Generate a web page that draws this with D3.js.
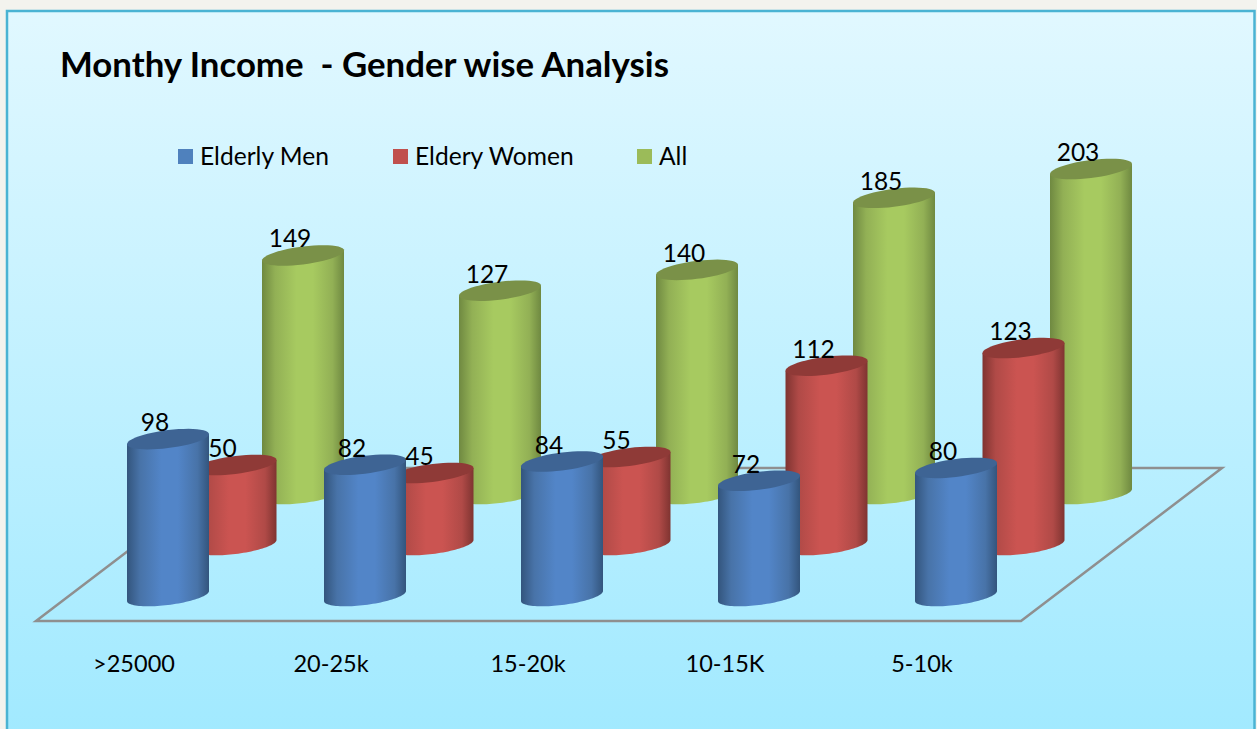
<!DOCTYPE html>
<html><head><meta charset="utf-8">
<script src="https://cdn.jsdelivr.net/npm/d3@7/dist/d3.min.js"></script>
<style>html,body{margin:0;padding:0;background:#f3f3ee;overflow:hidden}svg{display:block}text{font-family:Lato,"Open Sans",sans-serif;fill:#000}</style>
</head><body>
<script>
const title = "Monthy Income  - Gender wise Analysis";
const categories = [">25000", "20-25k", "15-20k", "10-15K", "5-10k"];
const seriesNames = ["Elderly Men", "Eldery Women", "All"];
const elderlyMen = [98, 82, 84, 72, 80];
const elderlyWomen = [50, 45, 55, 112, 123];
const allElderly = [149, 127, 140, 185, 203];
const seriesValues = [elderlyMen, elderlyWomen, allElderly];
const bodyEdge = ["#33557d", "#7f3431", "#6f8941"];
const bodyQuarter = ["#4873a8", "#b04a47", "#92b055"];
const bodyMid = ["#5285c8", "#cb5451", "#a7ca60"];
const capFill = ["#3e6494", "#8f3a37", "#7a9148"];
const legendFill = ["#4f81bd", "#c0504d", "#9bbb59"];

const W = 1257, H = 729;
const svg = d3.select("body").append("svg").attr("width", W).attr("height", H).attr("viewBox", [0, 0, W, H]);
const defs = svg.append("defs");

const bg = defs.append("linearGradient").attr("id", "bg").attr("x1", 0).attr("x2", 0).attr("y1", 0).attr("y2", 1);
bg.append("stop").attr("offset", 0).attr("stop-color", "#e1f8ff");
bg.append("stop").attr("offset", 1).attr("stop-color", "#9fe9ff");
seriesNames.forEach((s, i) => {
  const g = defs.append("linearGradient").attr("id", "cyl" + i).attr("x1", 0).attr("x2", 1).attr("y1", 0).attr("y2", 0);
  [[0, bodyEdge[i]], [.16, bodyQuarter[i]], [.42, bodyMid[i]], [.62, bodyMid[i]], [.86, bodyQuarter[i]], [1, bodyEdge[i]]].forEach(([o, c]) =>
    g.append("stop").attr("offset", o).attr("stop-color", c));
});

svg.append("rect").attr("x", 7).attr("y", 11).attr("width", 1247.5).attr("height", H + 20)
  .attr("fill", "url(#bg)").attr("stroke", "#4ab3d3").attr("stroke-width", 2.5);

svg.append("text").attr("x", 60).attr("y", 77).attr("font-size", 34.8).attr("font-weight", 700)
  .attr("xml:space", "preserve").style("white-space", "pre").text(title);

// legend
const legendX = d3.scaleOrdinal().domain(seriesNames).range([178, 393, 637]);
const lg = svg.append("g").selectAll("g").data(seriesNames).join("g")
  .attr("transform", d => `translate(${legendX(d)},149)`);
lg.append("rect").attr("width", 15).attr("height", 15).attr("fill", (d, i) => legendFill[i]);
lg.append("text").attr("x", 22).attr("y", 15.5).attr("font-size", 24.6).text(d => d);

// floor
const floor = [[36, 621], [1021, 621], [1222, 468], [237, 468]];
svg.append("path").attr("d", d3.line().curve(d3.curveLinearClosed)(floor))
  .attr("fill", "none").attr("stroke", "#8f8f8f").attr("stroke-width", 2.5);

// scales
const xCat = d3.scalePoint().domain(categories).range([168, 956]);
const xSeries = d3.scalePoint().domain(seriesNames).range([0, 135]);
const yBase = d3.scalePoint().domain(seriesNames).range([596, 494]);
const hScale = d3.scaleLinear().domain([0, 203]).range([0, 325]);
const rx = 41, ry = 9, tilt = 5;
const pt = (cx, cy, t) => [cx + rx * Math.cos(t), cy + ry * Math.sin(t) - tilt * Math.cos(t)];
const ts = (a, b) => d3.range(0, 49).map(k => a + (b - a) * k / 48);
const line = d3.line();

const marks = svg.append("g");
[2, 1, 0].forEach(si => {
  const name = seriesNames[si];
  const g = marks.append("g");
  const cyl = g.selectAll("g").data(seriesValues[si]).join("g");
  cyl.append("path").attr("fill", `url(#cyl${si})`).attr("d", (v, i) => {
    const cx = xCat(categories[i]) + xSeries(name), by = yBase(name), ty = by - hScale(v);
    const pts = ts(0, Math.PI).map(t => pt(cx, by, t));
    pts.push(pt(cx, ty, Math.PI), pt(cx, ty, 0));
    return line(pts) + "Z";
  });
  cyl.append("path").attr("fill", capFill[si]).attr("d", (v, i) => {
    const cx = xCat(categories[i]) + xSeries(name), ty = yBase(name) - hScale(v);
    return line(ts(0, 2 * Math.PI).map(t => pt(cx, ty, t))) + "Z";
  });
});

// value labels
const labels = svg.append("g").attr("text-anchor", "middle").attr("font-size", 24.5);
seriesNames.forEach((name, si) => {
  labels.append("g").selectAll("text").data(seriesValues[si]).join("text")
    .attr("x", (v, i) => xCat(categories[i]) + xSeries(name) - 13)
    .attr("y", v => yBase(name) - hScale(v) - 8)
    .text(v => v);
});

// category labels
svg.append("g").attr("text-anchor", "middle").attr("font-size", 23.5).selectAll("text").data(categories).join("text")
  .attr("x", d => xCat(d) - 34).attr("y", 672).text(d => d);
</script>
</body></html>
